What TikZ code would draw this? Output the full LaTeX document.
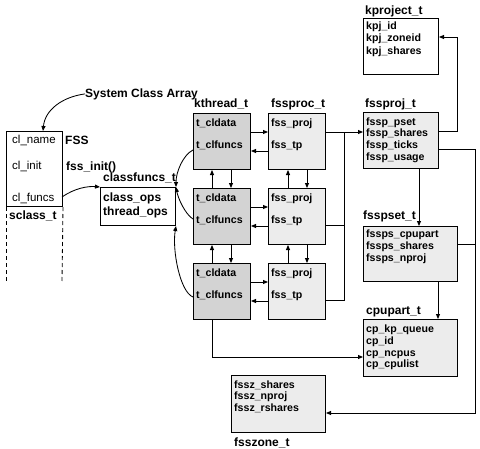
\documentclass[tikz,border=0pt]{standalone}
\usepackage{fontspec}
\setmainfont{Liberation Sans}
\usetikzlibrary{arrows.meta,calc}
\definecolor{darkfill}{HTML}{D3D3D3}
\definecolor{lightfill}{HTML}{ECECEC}
\begin{document}
\begin{tikzpicture}[x=1pt,y=-1pt,
  bx/.style={draw, line width=1pt, inner sep=0pt, anchor=north west},
  dbox/.style={bx, fill=darkfill},
  lbox/.style={bx, fill=lightfill},
  wbox/.style={bx, fill=white},
  lbl/.style={font=\bfseries\fontsize{12}{14}\selectfont, inner sep=0pt, anchor=base west},
  fld/.style={font=\bfseries\fontsize{10.6}{12}\selectfont, inner sep=0pt, anchor=base west},
  rfld/.style={font=\fontsize{11.5}{13}\selectfont, inner sep=0pt, anchor=base west},
  con/.style={line width=0.85pt},
  arr/.style={con, -{Triangle[length=5pt,width=4pt]}}]
\useasboundingbox (0,0) rectangle (480,448);

% sclass_t
\node[wbox, minimum width=56pt, minimum height=75pt] (sc) at (6,131) {};
\node[rfld] (scn) at (12,143) {cl\_name};
\node[rfld] (sci) at (12,169) {cl\_init};
\node[rfld] (scf) at (12,201) {cl\_funcs};
\node[lbl] (sclbl) at (9,219) {sclass\_t};
\coordinate (dl) at (6,282);
\coordinate (dr) at (62,282);
\draw[con, dash pattern=on 4pt off 3pt] (sc.south west) -- (dl);
\draw[con, dash pattern=on 4pt off 3pt] (sc.south east) -- (dr);
\node[lbl] (fss) at (65,144) {FSS};
\node[lbl] (fssinit) at (66,170) {fss\_init()};
\node[lbl] (sysarr) at (85,97) {System Class Array};
\coordinate (sctop) at (43,131);
\draw[arr] (sysarr.west) .. controls (62,97) and (45,110) .. (sctop);

% classfuncs_t
\node[lbl] (cflbl) at (103,181) {classfuncs\_t};
\node[wbox, minimum width=75pt, minimum height=38pt] (cf) at (100,187) {};
\node[lbl] (cfa) at (103,201) {class\_ops};
\node[lbl] (cfb) at (103,215) {thread\_ops};
\coordinate (scfr) at (62,197);
\draw[arr] (scfr) .. controls (75,188) and (88,186) .. (cf.north west);

% kthread_t and fssproc_t
\node[lbl] (ktlbl) at (194,107) {kthread\_t};
\node[lbl] (fplbl) at (271,107) {fssproc\_t};
\foreach \i/\y in {1/113,2/188,3/263}{
  \node[dbox, minimum width=57pt, minimum height=56pt] (k\i) at (193,\y) {};
  \node[lbox, minimum width=57pt, minimum height=56pt] (p\i) at (268,\y) {};
  \node[fld] (k\i a) at (196,\y+13) {t\_cldata};
  \node[fld] (k\i b) at (196,\y+35) {t\_clfuncs};
  \node[fld] (p\i a) at (271,\y+13) {fss\_proj};
  \node[fld] (p\i b) at (271,\y+35) {fss\_tp};
  \draw[arr] ($(k\i.north east)+(0,19)$) -- ($(p\i.north west)+(0,19)$);
  \draw[arr] ($(p\i.north west)+(0,38)$) -- ($(k\i.north east)+(0,38)$);
}
\foreach \a/\b in {1/2,2/3}{
  \draw[arr] ($(k\b.north west)+(19,0)$) -- ($(k\a.south west)+(19,0)$);
  \draw[arr] ($(k\a.south west)+(38,0)$) -- ($(k\b.north west)+(38,0)$);
  \draw[arr] ($(p\b.north west)+(20,0)$) -- ($(p\a.south west)+(20,0)$);
  \draw[arr] ($(p\a.south west)+(39,0)$) -- ($(p\b.north west)+(39,0)$);
}
% curves to classfuncs
\draw[arr] (193,150) .. controls (183,155) and (176,172) .. (cf.north east);
\draw[arr] (193,219) .. controls (185,214) and (178,198) .. (cf.north east);
\draw[arr] (193,297) .. controls (180,292) and (172,250) .. (cf.south east);

% fssproj_t
\node[lbl] (fjlbl) at (365,107) {fssproj\_t};
\node[lbox, minimum width=75pt, minimum height=56pt] (fp) at (363,112) {};
\node[fld] (fpa) at (366,125) {fssp\_pset};
\node[fld] (fpb) at (366,136) {fssp\_shares};
\node[fld] (fpc) at (366,148) {fssp\_ticks};
\node[fld] (fpd) at (366,160) {fssp\_usage};

% kproject_t
\node[lbl] (kplbl) at (365,14) {kproject\_t};
\node[wbox, minimum width=75pt, minimum height=56pt] (kp) at (363,18) {};
\node[fld] (kpa) at (366,29) {kpj\_id};
\node[fld] (kpb) at (366,41) {kpj\_zoneid};
\node[fld] (kpc) at (366,54) {kpj\_shares};

% fsspset_t
\node[lbl] (fslbl) at (363,219) {fsspset\_t};
\node[lbox, minimum width=94pt, minimum height=55pt] (fs) at (363,226) {};
\node[fld] (fsa) at (366,237) {fssps\_cpupart};
\node[fld] (fsb) at (366,249) {fssps\_shares};
\node[fld] (fsc) at (366,261) {fssps\_nproj};

% cpupart_t
\node[lbl] (cplbl) at (366,314) {cpupart\_t};
\node[lbox, minimum width=94pt, minimum height=57pt] (cp) at (363,319) {};
\node[fld] (cpa) at (366,332) {cp\_kp\_queue};
\node[fld] (cpb) at (366,344) {cp\_id};
\node[fld] (cpc) at (366,356) {cp\_ncpus};
\node[fld] (cpd) at (366,367) {cp\_cpulist};

% fsszone_t
\node[lbox, minimum width=94pt, minimum height=57pt] (fz) at (231,375) {};
\node[fld] (fza) at (234,388) {fssz\_shares};
\node[fld] (fzb) at (234,399) {fssz\_nproj};
\node[fld] (fzc) at (234,411) {fssz\_rshares};
\node[lbl] (fzlbl) at (234,446) {fsszone\_t};

% fssproc -> fssproj bus
\coordinate (p1o) at (325,132);
\coordinate (p2o) at (325,225);
\coordinate (p3o) at (325,300);
\coordinate (bus) at (344,132);
\draw[arr] (p1o) -- (p1o -| fp.west);
\draw[con] (p3o) -| (bus);
\draw[con] (p2o) -- (p2o -| bus);

% kthread -> cpupart
\coordinate (k3o) at (212,319);
\draw[arr] (k3o) |- (cp.west |- 0,357);

% fssproj -> kproject
\coordinate (fpo1) at (438,131);
\draw[arr] (fpo1) -- ++(19,0) |- (kp.east |- 0,37);
% fssproj -> fsszone
\coordinate (fpo2) at (438,149);
\draw[arr] (fpo2) -- ++(37,0) |- (fz.east |- 0,413);
% fsspset -> right bus
\coordinate (fso) at (457,244);
\coordinate (rb) at (475,244);
\draw[con] (fso) -- (rb);
% fssproj -> fsspset
\coordinate (fpb1) at (419,168);
\draw[arr] (fpb1) -- (fpb1 |- fs.north);
% fsspset -> cpupart
\coordinate (fsb1) at (438,281);
\draw[arr] (fsb1) -- (fsb1 |- cp.north);
\end{tikzpicture}
\end{document}
